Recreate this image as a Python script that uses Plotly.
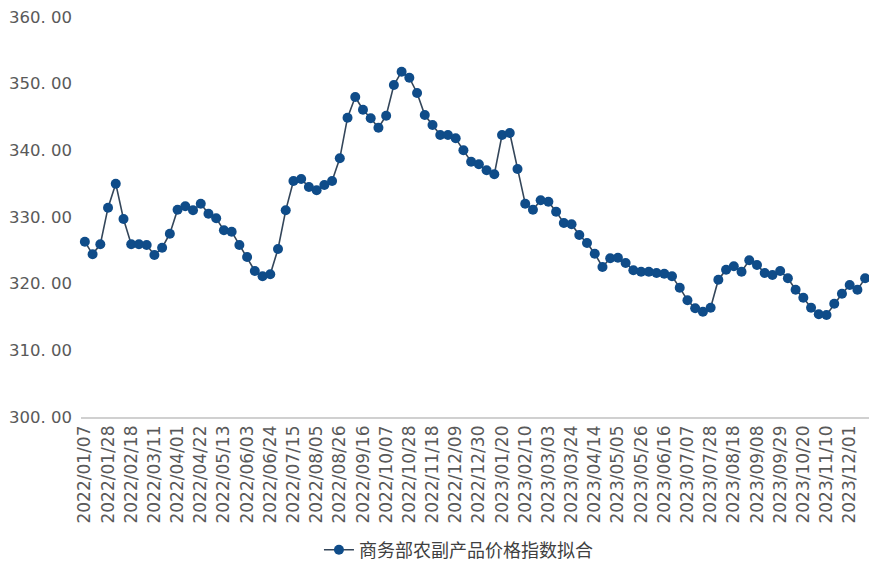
import plotly.graph_objects as go
import pandas as pd

# weekly dates, 2022/01/07 .. 2023/12/15
dates = [d.strftime("%Y/%m/%d") for d in pd.date_range("2022-01-07", periods=102, freq="7D")]

values = [
    326.3, 324.4, 325.9, 331.4, 335.0, 329.7, 325.9, 325.9, 325.8, 324.3,
    325.4, 327.5, 331.1, 331.6, 331.0, 332.0, 330.5, 329.8, 328.0, 327.8,
    325.8, 324.0, 321.9, 321.1, 321.4, 325.2, 331.0, 335.4, 335.7, 334.5,
    334.0, 334.8, 335.4, 338.8, 344.9, 348.0, 346.1, 344.8, 343.4, 345.2,
    349.8, 351.8, 350.9, 348.6, 345.3, 343.8, 342.3, 342.3, 341.8, 340.0,
    338.3, 337.9, 337.0, 336.4, 342.3, 342.6, 337.2, 332.0, 331.1, 332.5,
    332.3, 330.8, 329.1, 328.9, 327.3, 326.1, 324.5, 322.5, 323.8, 323.9,
    323.1, 322.0, 321.8, 321.8, 321.6, 321.5, 321.1, 319.4, 317.5, 316.3,
    315.8, 316.4, 320.6, 322.1, 322.6, 321.8, 323.5, 322.8, 321.6, 321.3,
    321.9, 320.8, 319.1, 317.9, 316.4, 315.4, 315.3, 317.0, 318.5, 319.8,
    319.1, 320.8,
]

series_name = "商务部农副产品价格指数拟合"
x_tick_labels = dates[::3]
y_tick_vals = [300, 310, 320, 330, 340, 350, 360]
y_tick_text = ["300. 00", "310. 00", "320. 00", "330. 00", "340. 00", "350. 00", "360. 00"]

fig = go.Figure()
fig.add_trace(go.Scatter(
    x=dates, y=values, mode="lines+markers", name=series_name,
    line=dict(color="#34465a", width=1.6),
    marker=dict(color="#0f4c89", size=10, line=dict(width=0)),
    cliponaxis=False,
))

fig.update_layout(
    width=869, height=565,
    margin=dict(l=81, r=0, t=17, b=148),
    paper_bgcolor="white", plot_bgcolor="white",
    font=dict(family="DejaVu Sans, Liberation Sans, Noto Sans CJK SC", color="#595959"),
    showlegend=True,
    legend=dict(orientation="h", x=0.479, xanchor="center",
                yref="container", y=1 - 550 / 565, yanchor="middle",
                borderwidth=0, bgcolor="rgba(0,0,0,0)",
                font=dict(size=18, color="#404040", family="Noto Sans CJK SC, DejaVu Sans")),
    xaxis=dict(
        type="category", range=[-0.5, 101.5], automargin=False,
        tickmode="array", tickvals=x_tick_labels, ticktext=x_tick_labels,
        tickangle=-90, tickfont=dict(size=17, color="#595959"),
        showgrid=False, showline=True, linecolor="#d0d0d0", linewidth=1.5,
        ticks="", zeroline=False,
    ),
    yaxis=dict(
        range=[300, 360], automargin=False,
        tickmode="array", tickvals=y_tick_vals, ticktext=y_tick_text,
        tickfont=dict(size=16.5, color="#595959"),
        showgrid=False, showline=False, zeroline=False, ticks="",
        ticklabelstandoff=8,
    ),
)

fig.write_html("out.html", config={"displayModeBar": False},
               post_script="document.body.style.margin='0';document.body.style.padding='0';")
